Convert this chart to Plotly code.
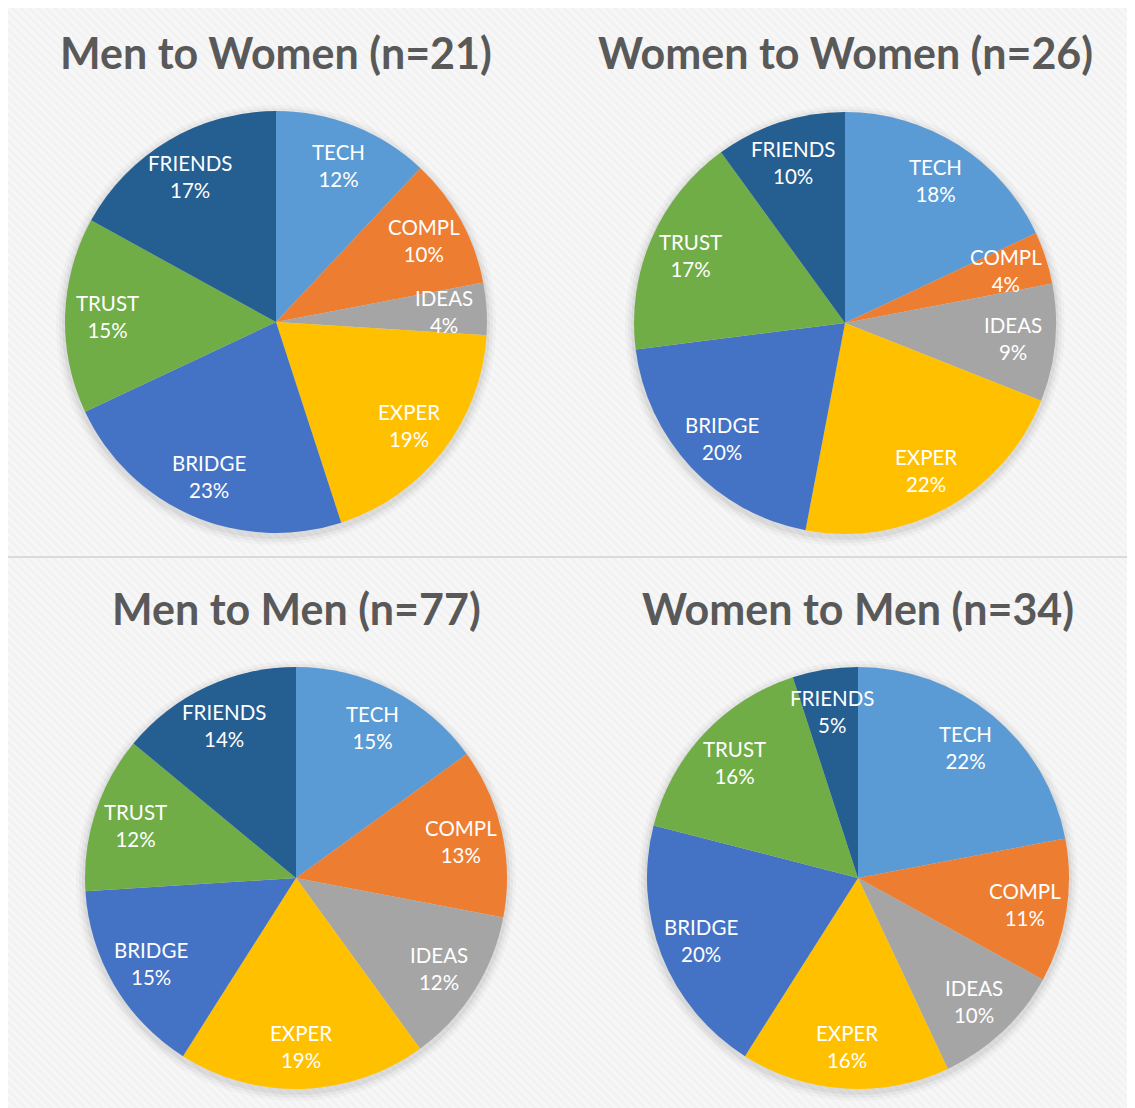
import numpy as np
import plotly.graph_objects as go

categories = ["TECH", "COMPL", "IDEAS", "EXPER", "BRIDGE", "TRUST", "FRIENDS"]
colors = ["#5B9BD5", "#ED7D31", "#A5A5A5", "#FFC000", "#4472C4", "#70AD47", "#255E91"]

titles = ["Men to Women (n=21)", "Women to Women (n=26)", "Men to Men (n=77)", "Women to Men (n=34)"]
men_to_women = [12, 10, 4, 19, 23, 15, 17]
women_to_women = [18, 4, 9, 22, 20, 17, 10]
men_to_men = [15, 13, 12, 19, 15, 12, 14]
women_to_men = [22, 11, 10, 16, 20, 16, 5]
series = [men_to_women, women_to_women, men_to_men, women_to_men]

# the page body adds an 8px offset; work in window pixels and shift
OFF = 8
W, H = 1135 - OFF, 1108 - OFF
centers = [(276, 322), (845, 323), (296, 878), (858, 878)]
radius = 211
label_frac = 0.8
title_pos = [(276, 52), (845, 52), (296, 608), (858, 608)]
panel = (8, 5, 1135, 1108)
sep_y = 557


def px(x):
    return x - OFF


def py(y):
    return y - OFF


fig = go.Figure()

# hatched light-gray background panel
x0, y0, x1, y1 = px(panel[0]), py(panel[1]), px(panel[2]), py(panel[3])
fig.add_trace(go.Scatter(
    x=[x0, x1, x1, x0, x0], y=[y0, y0, y1, y1, y0],
    mode="lines", line=dict(width=0), fill="toself",
    fillcolor="#F3F3F3",
    fillpattern=dict(shape="\\", bgcolor="#F2F2F2", fgcolor="#FCFCFC", size=6, solidity=0.5),
    hoverinfo="skip", showlegend=False))
# separator line between rows
fig.add_trace(go.Scatter(
    x=[x0, x1], y=[py(sep_y), py(sep_y)], mode="lines",
    line=dict(width=2, color="#DADADA"), hoverinfo="skip", showlegend=False))

# soft shadows behind pies
theta = np.linspace(0, 2 * np.pi, 200)
for (cx, cy) in centers:
    for extra, alpha in [(9, 0.025), (6, 0.035), (3, 0.05)]:
        r = radius + extra
        fig.add_trace(go.Scatter(
            x=px(cx) + r * np.cos(theta), y=py(cy) + 3 + r * np.sin(theta),
            mode="lines", line=dict(width=0), fill="toself",
            fillcolor=f"rgba(0,0,0,{alpha})", hoverinfo="skip", showlegend=False))

for vals, (cx, cy) in zip(series, centers):
    cx, cy = px(cx), py(cy)
    fig.add_trace(go.Pie(
        labels=categories, values=vals, sort=False, direction="clockwise", rotation=0,
        marker=dict(colors=colors, line=dict(width=0)),
        textinfo="none",
        domain=dict(x=[(cx - radius) / W, (cx + radius) / W],
                    y=[1 - (cy + radius) / H, 1 - (cy - radius) / H]),
        showlegend=False, hoverinfo="label+percent"))
    # data labels placed along each slice's bisector (Excel-style)
    v = np.array(vals, dtype=float)
    frac = v / v.sum()
    mid = np.cumsum(frac) - frac / 2
    ang = mid * 2 * np.pi
    lx = cx + label_frac * radius * np.sin(ang)
    ly = cy - label_frac * radius * np.cos(ang)
    for lab, val, xx, yy in zip(categories, vals, lx, ly):
        fig.add_annotation(text=f"{lab}<br>{val}%", x=xx, y=yy, xref="x", yref="y",
                           showarrow=False, xanchor="center", yanchor="middle",
                           font=dict(size=20.5, color="white", family="Lato"))

for t, (tx, ty) in zip(titles, title_pos):
    fig.add_annotation(text=f"<b>{t}</b>", x=px(tx) / W, y=1 - py(ty) / H, xref="paper", yref="paper",
                       showarrow=False, xanchor="center", yanchor="middle",
                       font=dict(size=43, color="#595959", family="Lato"))

fig.update_layout(
    width=W, height=H, margin=dict(l=0, r=0, t=0, b=0),
    paper_bgcolor="white", plot_bgcolor="white",
    xaxis=dict(range=[0, W], visible=False, domain=[0, 1], fixedrange=True),
    yaxis=dict(range=[H, 0], visible=False, domain=[0, 1], fixedrange=True),
    font=dict(family="Lato"),
)

fig.write_html("out.html")
